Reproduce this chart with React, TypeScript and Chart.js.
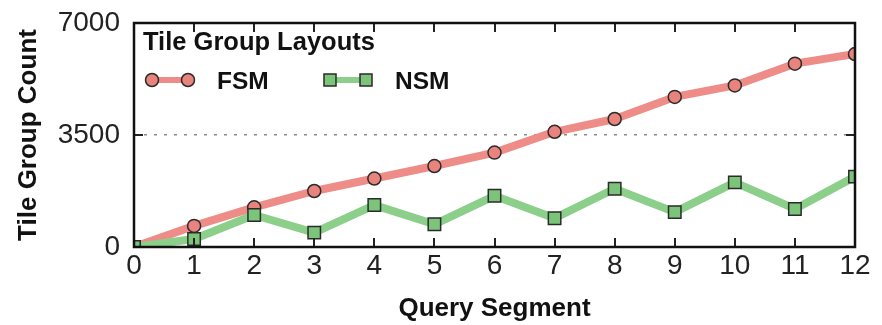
import React, { useEffect, useRef } from "react";
import { Chart, registerables } from "chart.js";

Chart.register(...registerables);

const segments: number[] = [0, 1, 2, 3, 4, 5, 6, 7, 8, 9, 10, 11, 12];
const fsmCounts: number[] = [0, 660, 1240, 1750, 2140, 2530, 2950, 3600, 4000, 4690, 5050, 5730, 6030];
const nsmCounts: number[] = [0, 250, 1000, 450, 1310, 710, 1600, 900, 1820, 1090, 2020, 1190, 2200];
const yTicks: number[] = [0, 3500, 7000];
const legendTitle = "Tile Group Layouts";
const seriesNames: string[] = ["FSM", "NSM"];

const FSM_LINE = "#ee8d88";
const FSM_FILL = "#e8837e";
const NSM_LINE = "#8ccf8a";
const NSM_FILL = "#7cc47a";
const EDGE = "#2b2b2b";
const FONT = "'Liberation Sans', Arial, sans-serif";

const framePlugin = {
  id: "frameAndLegend",
  afterDatasetsDraw(chart: any) {
    const { ctx, chartArea, scales } = chart;
    const { left, right, top, bottom } = chartArea;
    const x = scales.x;
    const y = scales.y;
    ctx.save();
    // inner ticks
    ctx.strokeStyle = "#222";
    ctx.lineWidth = 2;
    const tl = 9;
    segments.forEach((s) => {
      const px = Math.round(x.getPixelForValue(s));
      ctx.beginPath();
      ctx.moveTo(px, bottom);
      ctx.lineTo(px, bottom - tl);
      ctx.moveTo(px, top);
      ctx.lineTo(px, top + tl);
      ctx.stroke();
    });
    yTicks.forEach((v) => {
      const py = Math.round(y.getPixelForValue(v));
      ctx.beginPath();
      ctx.moveTo(left, py);
      ctx.lineTo(left + tl, py);
      ctx.moveTo(right, py);
      ctx.lineTo(right - tl, py);
      ctx.stroke();
    });
    // frame
    ctx.lineWidth = 2.5;
    ctx.strokeStyle = "#111";
    ctx.strokeRect(left, top, right - left, bottom - top);

    // legend
    ctx.fillStyle = "#111";
    ctx.textBaseline = "alphabetic";
    ctx.textAlign = "left";
    ctx.font = "bold 25.5px " + FONT;
    ctx.fillText(legendTitle, left + 9, top + 27);

    const rowY = top + 57;
    const items = [
      { name: seriesNames[0], line: FSM_LINE, fill: FSM_FILL, style: "circle", x0: left + 18, tx: left + 83 },
      { name: seriesNames[1], line: NSM_LINE, fill: NSM_FILL, style: "rect", x0: left + 196, tx: left + 261 },
    ];
    items.forEach((it) => {
      ctx.strokeStyle = it.line;
      ctx.lineWidth = 6;
      ctx.beginPath();
      ctx.moveTo(it.x0, rowY);
      ctx.lineTo(it.x0 + 36, rowY);
      ctx.stroke();
      [it.x0, it.x0 + 36].forEach((mx) => {
        ctx.fillStyle = it.fill;
        ctx.strokeStyle = EDGE;
        ctx.lineWidth = 1.5;
        ctx.beginPath();
        if (it.style === "circle") {
          ctx.arc(mx, rowY, 6.5, 0, Math.PI * 2);
        } else {
          ctx.rect(mx - 6, rowY - 6, 12, 12);
        }
        ctx.fill();
        ctx.stroke();
      });
      ctx.fillStyle = "#111";
      ctx.font = "bold 24.5px " + FONT;
      ctx.fillText(it.name, it.tx, rowY + 9);
    });
    ctx.restore();
  },
};

export default function App() {
  const ref = useRef<HTMLCanvasElement | null>(null);
  useEffect(() => {
    if (!ref.current) return;
    const chart = new Chart(ref.current, {
      type: "line",
      data: {
        labels: segments,
        datasets: [
          {
            label: seriesNames[0],
            data: segments.map((s, i) => ({ x: s, y: fsmCounts[i] })),
            borderColor: FSM_LINE,
            backgroundColor: FSM_FILL,
            borderWidth: 8,
            pointStyle: "circle",
            pointRadius: 6.5,
            pointBorderColor: EDGE,
            pointBorderWidth: 1.5,
            pointBackgroundColor: FSM_FILL,
            borderJoinStyle: "round",
            tension: 0,
            order: 2,
          },
          {
            label: seriesNames[1],
            data: segments.map((s, i) => ({ x: s, y: nsmCounts[i] })),
            borderColor: NSM_LINE,
            backgroundColor: NSM_FILL,
            borderWidth: 8,
            pointStyle: "rect",
            pointRadius: 8.8,
            pointBorderColor: EDGE,
            pointBorderWidth: 1.5,
            pointBackgroundColor: NSM_FILL,
            borderJoinStyle: "round",
            tension: 0,
            order: 1,
          },
        ],
      },
      options: {
        animation: false,
        responsive: false,
        layout: { padding: { left: 0, right: 27, top: 23, bottom: 0 } },
        plugins: { legend: { display: false }, tooltip: { enabled: false } },
        scales: {
          x: {
            type: "linear",
            min: 0,
            max: 12,
            afterBuildTicks: (scale: any) => {
              scale.ticks = segments.map((v) => ({ value: v }));
            },
            afterFit: (scale: any) => {
              scale.height = 78;
              scale.paddingLeft = 0;
              scale.paddingRight = 0;
            },
            grid: { display: false, drawTicks: false },
            border: { display: false },
            ticks: {
              padding: 2,
              color: "#222",
              font: { family: FONT, size: 28 },
              maxRotation: 0,
              autoSkip: false,
            },
            title: {
              display: true,
              text: "Query Segment",
              color: "#111",
              font: { family: FONT, size: 26, weight: "bold" },
              padding: { top: 0, bottom: 1 },
            },
          },
          y: {
            type: "linear",
            min: 0,
            max: 7000,
            afterBuildTicks: (scale: any) => {
              scale.ticks = yTicks.map((v) => ({ value: v }));
            },
            afterFit: (scale: any) => {
              scale.width = 134;
              scale.paddingTop = 0;
              scale.paddingBottom = 0;
            },
            grid: {
              drawTicks: false,
              lineWidth: 1.5,
              color: (c: any) => (c.tick && c.tick.value === 3500 ? "#8a8a8a" : "rgba(0,0,0,0)"),
            },
            border: { display: false, dash: [3, 7] },
            ticks: {
              padding: 14,
              color: "#222",
              font: { family: FONT, size: 28 },
              callback: (v: any) => String(v),
            },
            title: {
              display: true,
              text: "Tile Group Count",
              color: "#111",
              font: { family: FONT, size: 26, weight: "bold" },
              padding: { top: 13, bottom: 0 },
            },
          },
        },
      },
      plugins: [framePlugin],
    });
    return () => chart.destroy();
  }, []);
  return (
    <div style={{ position: "fixed", left: 0, top: 0, width: 882, height: 325, background: "#fff" }}>
      <canvas ref={ref} width={882} height={325} />
    </div>
  );
}
